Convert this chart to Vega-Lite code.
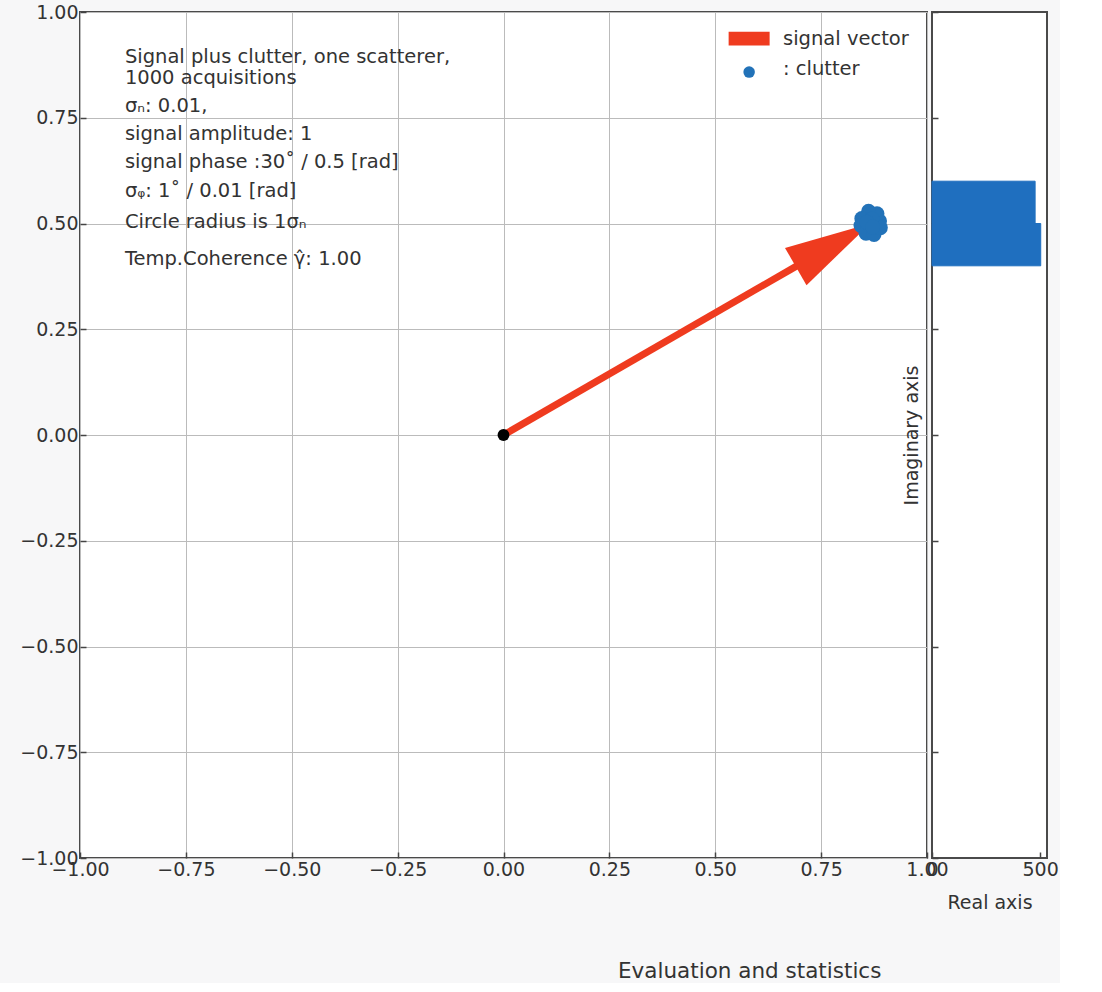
{
  "$schema": "https://vega.github.io/schema/vega-lite/v6.json",
  "background": "#f7f7f8",
  "padding": {"left": 18, "top": 2, "right": 0, "bottom": 0},
  "title": {"text": "Evaluation and statistics", "orient": "bottom", "anchor": "start", "frame": "group", "dx": 538, "offset": 48, "fontSize": 21.5, "font": "DejaVu Sans", "fontWeight": "normal", "color": "#333333"},
  "datasets": {
    "clutter": [
      {"re": 0.866, "im": 0.500}, {"re": 0.888, "im": 0.506}, {"re": 0.882, "im": 0.523},
      {"re": 0.862, "im": 0.529}, {"re": 0.846, "im": 0.512}, {"re": 0.844, "im": 0.495},
      {"re": 0.856, "im": 0.477}, {"re": 0.875, "im": 0.474}, {"re": 0.890, "im": 0.490},
      {"re": 0.870, "im": 0.511}, {"re": 0.858, "im": 0.503}, {"re": 0.872, "im": 0.492}
    ],
    "shaft": [{"re": 0.0, "im": 0.0}, {"re": 0.70, "im": 0.404}],
    "head": [{"re": 0.866, "im": 0.5}],
    "origin": [{"re": 0.0, "im": 0.0}],
    "hist": [
      {"bin_start": 0.4, "bin_end": 0.5, "count": 503},
      {"bin_start": 0.5, "bin_end": 0.6, "count": 477}
    ],
    "notes": [
      {"re": -0.894, "im": 0.879, "text": "Signal plus clutter, one scatterer,"},
      {"re": -0.894, "im": 0.830, "text": "1000 acquisitions"},
      {"re": -0.894, "im": 0.764, "text": "σₙ: 0.01,"},
      {"re": -0.894, "im": 0.697, "text": "signal amplitude: 1"},
      {"re": -0.894, "im": 0.631, "text": "signal phase :30˚ / 0.5 [rad]"},
      {"re": -0.894, "im": 0.563, "text": "σᵩ: 1˚ / 0.01 [rad]"},
      {"re": -0.894, "im": 0.489, "text": "Circle radius is 1σₙ"},
      {"re": -0.894, "im": 0.402, "text": "Temp.Coherence γ̂: 1.00"}
    ],
    "legend_patch": [{"re": 0.580, "im": 0.937}],
    "legend_dot": [{"re": 0.580, "im": 0.858}],
    "legend_text": [
      {"re": 0.660, "im": 0.922, "text": "signal vector"},
      {"re": 0.660, "im": 0.851, "text": ": clutter"}
    ]
  },
  "hconcat": [
    {
      "width": 847,
      "height": 846,
      "layer": [
        {
          "data": {"name": "shaft"},
          "mark": {"type": "line", "color": "#ef3b1f", "strokeWidth": 7, "strokeCap": "butt"},
          "encoding": {
            "x": {"field": "re", "type": "quantitative", "scale": {"domain": [-1, 1], "nice": false, "zero": false},
                  "axis": {"title": null, "values": [-1, -0.75, -0.5, -0.25, 0, 0.25, 0.5, 0.75, 1], "format": ".2f", "grid": true, "labelFlush": false}},
            "y": {"field": "im", "type": "quantitative", "scale": {"domain": [-1, 1], "nice": false, "zero": false},
                  "axis": {"title": null, "values": [-1, -0.75, -0.5, -0.25, 0, 0.25, 0.5, 0.75, 1], "format": ".2f", "grid": true, "labelFlush": false}}
          }
        },
        {
          "data": {"name": "head"},
          "mark": {"type": "point", "shape": "M0,0L-2,-0.5L-2,0.5Z", "filled": true, "color": "#ef3b1f", "opacity": 1, "size": 7400, "angle": -30},
          "encoding": {"x": {"field": "re", "type": "quantitative"}, "y": {"field": "im", "type": "quantitative"}}
        },
        {
          "data": {"name": "clutter"},
          "mark": {"type": "point", "shape": "circle", "filled": true, "color": "#2272b8", "opacity": 1, "size": 220},
          "encoding": {"x": {"field": "re", "type": "quantitative"}, "y": {"field": "im", "type": "quantitative"}}
        },
        {
          "data": {"name": "origin"},
          "mark": {"type": "point", "shape": "circle", "filled": true, "color": "#000000", "opacity": 1, "size": 140},
          "encoding": {"x": {"field": "re", "type": "quantitative"}, "y": {"field": "im", "type": "quantitative"}}
        },
        {
          "data": {"name": "notes"},
          "mark": {"type": "text", "align": "left", "baseline": "alphabetic", "font": "DejaVu Sans", "fontSize": 19.5, "color": "#333333"},
          "encoding": {"x": {"field": "re", "type": "quantitative"}, "y": {"field": "im", "type": "quantitative"}, "text": {"field": "text"}}
        },
        {
          "data": {"name": "legend_patch"},
          "mark": {"type": "point", "shape": "M-1,-0.34L1,-0.34L1,0.34L-1,0.34Z", "filled": true, "color": "#ef3b1f", "opacity": 1, "size": 1681},
          "encoding": {"x": {"field": "re", "type": "quantitative"}, "y": {"field": "im", "type": "quantitative"}}
        },
        {
          "data": {"name": "legend_dot"},
          "mark": {"type": "point", "shape": "circle", "filled": true, "color": "#2272b8", "opacity": 1, "size": 133},
          "encoding": {"x": {"field": "re", "type": "quantitative"}, "y": {"field": "im", "type": "quantitative"}}
        },
        {
          "data": {"name": "legend_text"},
          "mark": {"type": "text", "align": "left", "baseline": "alphabetic", "font": "DejaVu Sans", "fontSize": 19.5, "color": "#333333"},
          "encoding": {"x": {"field": "re", "type": "quantitative"}, "y": {"field": "im", "type": "quantitative"}, "text": {"field": "text"}}
        }
      ]
    },
    {
      "width": 115,
      "height": 846,
      "data": {"name": "hist"},
      "mark": {"type": "rect", "color": "#1f6fbf", "stroke": "#1f6fbf", "strokeWidth": 1, "opacity": 1},
      "encoding": {
        "x": {"field": "count", "type": "quantitative", "scale": {"domain": [0, 532], "nice": false, "zero": true},
              "axis": {"title": "Real axis", "values": [0, 500], "grid": false, "labelFlush": false, "titlePadding": 14}},
        "x2": {"datum": 0},
        "y": {"field": "bin_start", "type": "quantitative", "scale": {"domain": [-1, 1], "nice": false, "zero": false},
              "axis": {"title": "Imaginary axis", "values": [-1, -0.75, -0.5, -0.25, 0, 0.25, 0.5, 0.75, 1], "labels": false, "grid": false, "titlePadding": 10}},
        "y2": {"field": "bin_end"}
      }
    }
  ],
  "spacing": 5,
  "bounds": "flush",
  "config": {
    "font": "DejaVu Sans",
    "view": {"stroke": "#4a4a4a", "strokeWidth": 2, "fill": "#ffffff"},
    "axis": {
      "labelFont": "DejaVu Sans", "labelFontSize": 19, "labelColor": "#333333",
      "titleFont": "DejaVu Sans", "titleFontSize": 19, "titleFontWeight": "normal", "titleColor": "#333333",
      "gridColor": "#bbbbbb", "gridWidth": 1, "gridOpacity": 1,
      "domain": false, "tickColor": "#444444", "tickSize": -6, "tickWidth": 1.5, "labelPadding": 8
    }
  }
}
